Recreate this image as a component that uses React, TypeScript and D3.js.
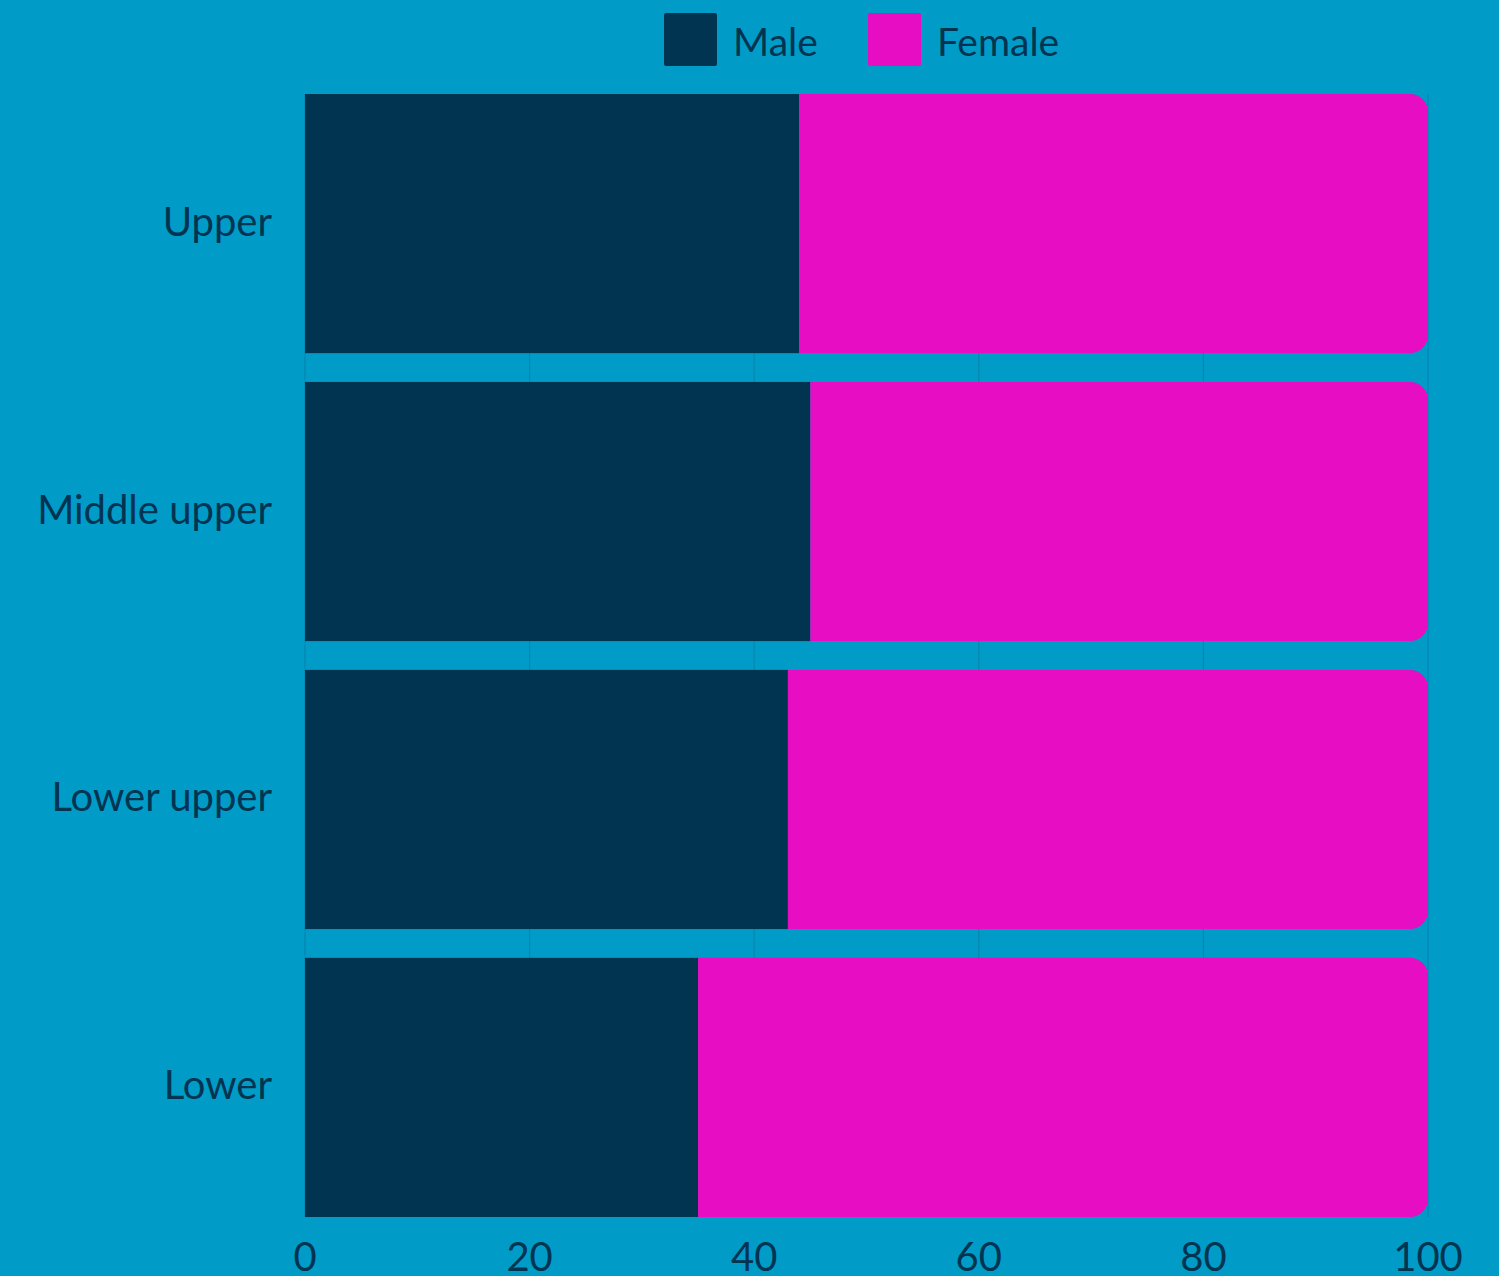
import React from "react";
import * as d3 from "d3";

const categories = ["Upper", "Middle upper", "Lower upper", "Lower"];
const maleValues = [44, 45, 43, 35];
const femaleValues = [56, 55, 57, 65];
const seriesNames = ["Male", "Female"];
const xTicks = [0, 20, 40, 60, 80, 100];

const W = 1499;
const H = 1276;
const BG = "#019bc8";
const MALE = "#003450";
const FEMALE = "#e60dc3";
const TEXT = "#003450";
const GRID = "#0088b3";
const FONT = "Lato, 'Open Sans', sans-serif";

export default function App() {
  const x = d3.scaleLinear().domain([0, 100]).range([305, 1428]);
  const y = d3.scaleBand<string>().domain(categories).range([94, 1217]).paddingInner(0.1).paddingOuter(0);
  const bw = y.bandwidth();
  const r = 18;
  const colors = [MALE, FEMALE];

  const rightRounded = (x0: number, x1: number, y0: number, h: number) => {
    const p = d3.path();
    p.moveTo(x0, y0);
    p.lineTo(x1 - r, y0);
    p.arcTo(x1, y0, x1, y0 + r, r);
    p.lineTo(x1, y0 + h - r);
    p.arcTo(x1, y0 + h, x1 - r, y0 + h, r);
    p.lineTo(x0, y0 + h);
    p.closePath();
    return p.toString();
  };

  return (
    <svg width={W} height={H} style={{ display: "block", position: "absolute", left: 0, top: 0 }}>
      <rect x={0} y={0} width={W} height={H} fill={BG} />
      {xTicks.map((t) => (
        <line key={"g" + t} x1={x(t)} x2={x(t)} y1={94} y2={1217} stroke={GRID} strokeWidth={1.2} />
      ))}
      {categories.map((c, i) => {
        const y0 = y(c) as number;
        const m = maleValues[i];
        const f = femaleValues[i];
        return (
          <g key={c}>
            <rect x={x(0)} y={y0} width={x(m) - x(0)} height={bw} fill={MALE} />
            <path d={rightRounded(x(m), x(m + f), y0, bw)} fill={FEMALE} />
            <text
              x={272}
              y={y0 + bw / 2 - 3}
              textAnchor="end"
              dominantBaseline="central"
              fontFamily={FONT}
              fontSize={40}
              fill={TEXT}
            >
              {c}
            </text>
          </g>
        );
      })}
      {xTicks.map((t) => (
        <text key={"t" + t} x={x(t)} y={1271} textAnchor="middle" fontFamily={FONT} fontSize={40} fill={TEXT}>
          {t}
        </text>
      ))}
      {seriesNames.map((s, i) => {
        const lx = [664, 868][i];
        return (
          <g key={s}>
            <rect x={lx} y={13} width={53} height={53} rx={2} fill={colors[i]} />
            <text x={lx + 69} y={56} fontFamily={FONT} fontSize={39} fill={TEXT}>
              {s}
            </text>
          </g>
        );
      })}
    </svg>
  );
}
